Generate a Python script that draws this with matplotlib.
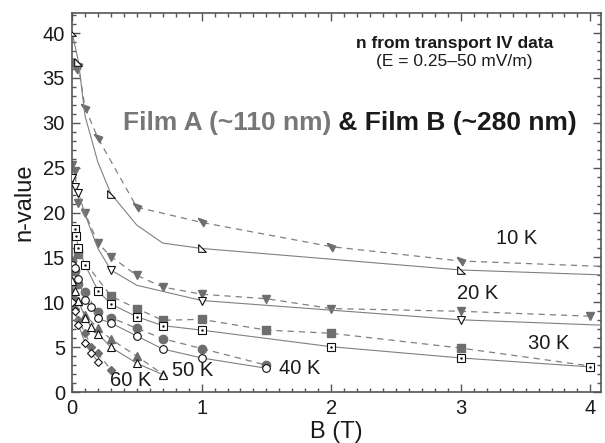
import matplotlib
matplotlib.use("Agg")
import matplotlib.pyplot as plt
from matplotlib.ticker import MultipleLocator

plt.rcParams['font.family'] = ['Liberation Sans', 'DejaVu Sans']

# Film A (~110 nm): filled markers, dashed lines
B10_A = [0.0, 0.03, 0.05, 0.1, 0.2, 0.5, 1.0, 2.0, 3.0, 5.0]
n10_A = [36.9, 36.0, 36.4, 31.7, 28.3, 20.6, 18.9, 16.2, 14.6, 13.5]
B20_A = [0.0, 0.02, 0.05, 0.1, 0.2, 0.3, 0.5, 0.7, 1.0, 1.5, 2.0, 3.0, 4.0]
n20_A = [25.3, 24.6, 21.1, 20.0, 16.6, 15.1, 13.0, 11.7, 10.9, 10.4, 9.3, 9.0, 8.45]
B30_A = [0.05, 0.3, 0.5, 0.7, 1.0, 1.5, 2.0, 3.0, 4.0]
n30_A = [15.4, 10.7, 9.3, 8.0, 8.1, 6.9, 6.55, 4.9, 2.9]
B40_A = [0.0, 0.02, 0.05, 0.1, 0.2, 0.3, 0.5, 0.7, 1.0, 1.5]
n40_A = [14.6, 13.5, 12.0, 11.1, 8.9, 8.3, 7.1, 5.95, 4.85, 3.0]
B50_A = [0.0, 0.02, 0.05, 0.1, 0.2, 0.3, 0.5, 0.7]
n50_A = [11.0, 10.3, 10.2, 8.6, 7.1, 5.9, 4.0, 2.0]
B60_A = [0.0, 0.02, 0.05, 0.1, 0.15, 0.2, 0.3]
n60_A = [11.2, 9.2, 8.0, 6.6, 5.0, 4.3, 2.5]

# Film B (~280 nm): open markers, solid lines
B10_B = [0.0, 0.05, 0.1, 0.2, 0.3, 0.5, 0.7, 1.0, 3.0, 5.0]
n10_B = [40.1, 36.8, 30.8, 25.6, 22.1, 18.6, 16.6, 16.0, 13.6, 12.6]
B20_B = [0.0, 0.02, 0.05, 0.1, 0.2, 0.3, 0.5, 1.0, 3.0, 5.0]
n20_B = [23.8, 22.9, 22.2, 19.8, 16.0, 13.6, 11.9, 10.2, 8.05, 6.95]
B30_B = [0.02, 0.03, 0.05, 0.1, 0.2, 0.3, 0.5, 0.7, 1.0, 2.0, 3.0, 4.0]
n30_B = [18.2, 17.4, 16.1, 14.2, 11.3, 9.8, 8.4, 7.4, 6.9, 5.05, 3.8, 2.8]
B40_B = [0.0, 0.02, 0.05, 0.1, 0.15, 0.2, 0.3, 0.5, 0.7, 1.0, 1.5]
n40_B = [14.2, 13.8, 12.6, 10.3, 9.5, 8.2, 7.7, 6.25, 4.8, 3.8, 2.65]
B50_B = [0.0, 0.02, 0.05, 0.1, 0.15, 0.2, 0.3, 0.5, 0.7]
n50_B = [12.4, 11.3, 10.2, 8.3, 7.2, 6.5, 5.0, 3.2, 1.95]
B60_B = [0.0, 0.02, 0.05, 0.1, 0.15, 0.2]
n60_B = [10.0, 9.0, 7.5, 5.5, 4.3, 3.4]

temp_labels = ['10 K', '20 K', '30 K', '40 K', '50 K', '60 K']
label_B = [3.43, 3.13, 3.68, 1.76, 0.93, 0.45]
label_n = [17.1, 11.0, 5.45, 2.6, 2.4, 1.3]

# right-triangle marker shapes used for 10 K
tri_open = [(-1, 1), (-1, -1), (1, -1), (-1, 1)]
tri_fill = [(-1, 1), (1, 0.3), (0.3, -1), (-1, 1)]

gA = '#6e6e6e'
line_c = '#808080'

fig = plt.figure(figsize=(6.05, 4.43), dpi=100)
ax = fig.add_axes([0.119, 0.115, 0.874, 0.855])

filmA = [
    (B10_A, n10_A, tri_fill, 6, list(range(9))),
    (B20_A, n20_A, 'v', 6, None),
    (B30_A, n30_A, 's', 6, list(range(8))),
    (B40_A, n40_A, 'o', 6, None),
    (B50_A, n50_A, '^', 6, None),
    (B60_A, n60_A, 'D', 4, None),
]
filmB = [
    (B10_B, n10_B, tri_open, 5.5, [0, 1, 4, 7, 8]),
    (B20_B, n20_B, 'v', 6, [0, 1, 2, 5, 7, 8]),
    (B30_B, n30_B, 's', 6, None),
    (B40_B, n40_B, 'o', 5.5, None),
    (B50_B, n50_B, '^', 6, None),
    (B60_B, n60_B, 'D', 4, None),
]

for B, n, m, ms, every in filmA:
    ax.plot(B, n, ls=(0, (5, 4)), lw=0.9, color=line_c, marker=m, ms=ms,
            mfc=gA, mec=gA, markevery=every, zorder=2)

for B, n, m, ms, every in filmB:
    ax.plot(B, n, ls='-', lw=0.8, color=line_c, marker=m, ms=ms,
            mfc='white', mec='#111111', mew=0.8, markevery=every, zorder=3)

# small dot in centre of open squares
ax.plot(B30_B, n30_B, ls='none', marker='.', ms=1.5, color='#111111', zorder=4)

for t, x, y in zip(temp_labels, label_B, label_n):
    ax.text(x, y, t, fontsize=14.5, color='#1a1a1a', ha='center', va='center')

ax.set_xlim(0, 4.08)
ax.set_ylim(0, 42.2)
ax.xaxis.set_major_locator(MultipleLocator(1))
ax.xaxis.set_minor_locator(MultipleLocator(0.1))
ax.yaxis.set_major_locator(MultipleLocator(5))
ax.yaxis.set_minor_locator(MultipleLocator(1))
ax.tick_params(which='both', direction='in', top=True, right=True,
               color='#555555', width=1)
ax.tick_params(which='major', length=6, labelsize=14.5, labelcolor='#1a1a1a', pad=5)
ax.tick_params(which='minor', length=3)
for s in ax.spines.values():
    s.set_color('#555555')
    s.set_linewidth(1.2)

ax.set_xlabel('B (T)', fontsize=17, color='#1a1a1a', labelpad=2)
ax.set_ylabel('n-value', fontsize=17, color='#1a1a1a', labelpad=5)

fig.text(0.751, 0.902, 'n from transport IV data', fontsize=12.5, fontweight='bold',
         color='#1a1a1a', ha='center', va='center')
fig.text(0.751, 0.861, '(E = 0.25\u201350 mV/m)', fontsize=12.5,
         color='#1a1a1a', ha='center', va='center')

t1 = fig.text(0.203, 0.722, 'Film A (~110 nm)', fontsize=19, fontweight='bold',
              color='#777777', ha='left', va='center')
ax.annotate(' & Film B (~280 nm)', xy=(1, 0), xycoords=t1, fontsize=19,
            fontweight='bold', color='#1a1a1a', ha='left', va='bottom')

fig.savefig('out.png', dpi=100)
